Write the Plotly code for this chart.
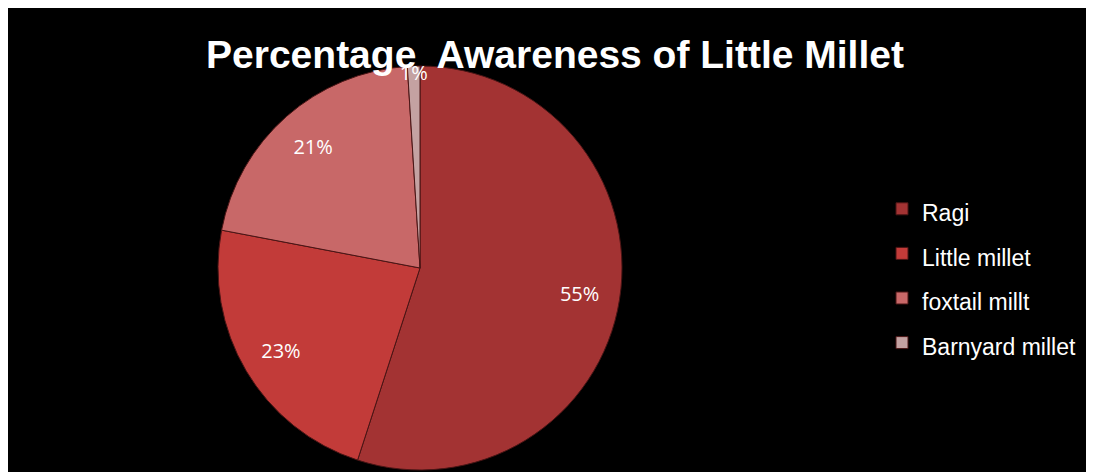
import plotly.graph_objects as go

# Browser body margin offsets the figure by 8px; figure size is reduced to fit.
OFF = 8
W, H = 1094 - OFF, 472 - OFF

labels = ["Ragi", "Little millet", "foxtail millt", "Barnyard millet"]
values = [55, 23, 21, 1]
colors = ["#A33333", "#C23B39", "#C86868", "#C4A2A2"]
title_text = "Percentage  Awareness of Little Millet"

def fx(p):
    return (p - OFF) / W

def fy(p):
    return 1 - (p - OFF) / H

legend_labels = ['<span style="font-size:23px">' + s + '</span>' for s in labels]
pie_domain = dict(x=[fx(218), fx(622)], y=[fy(470), fy(66)])

fig = go.Figure()
# Filled pie with slice borders and legend
fig.add_trace(go.Pie(
    labels=legend_labels,
    values=values,
    sort=False,
    direction="clockwise",
    rotation=0,
    marker=dict(colors=colors, line=dict(color="#4a1515", width=1)),
    textinfo="none",
    domain=pie_domain,
    hovertemplate="%{percent}<extra></extra>",
))
# Transparent ring on top, only to place the percentage labels near the rim
fig.add_trace(go.Pie(
    labels=legend_labels,
    values=values,
    sort=False,
    direction="clockwise",
    rotation=0,
    hole=0.6,
    showlegend=False,
    marker=dict(colors=["rgba(0,0,0,0)"] * len(values), line=dict(width=0)),
    textinfo="percent",
    texttemplate="%{percent:.0%}",
    textposition="inside",
    insidetextorientation="horizontal",
    textfont=dict(color="white", size=20, family="Open Sans, Liberation Sans, sans-serif"),
    domain=pie_domain,
    hoverinfo="skip",
))

fig.update_layout(
    width=W, height=H,
    margin=dict(l=0, r=0, t=0, b=0),
    paper_bgcolor="black",
    title=dict(text="<b>" + title_text + "</b>", x=fx(555), xanchor="center",
               y=fy(54), yanchor="middle", yref="container",
               font=dict(color="white", size=39,
                         family="Liberation Sans, Arial, sans-serif")),
    legend=dict(x=fx(882), xanchor="left", y=fy(276), yanchor="middle",
                font=dict(color="white", size=32,
                          family="Liberation Sans, Arial, sans-serif"),
                bgcolor="rgba(0,0,0,0)"),
    uniformtext=dict(minsize=20, mode="show"),
)

fig.write_html("out.html")
